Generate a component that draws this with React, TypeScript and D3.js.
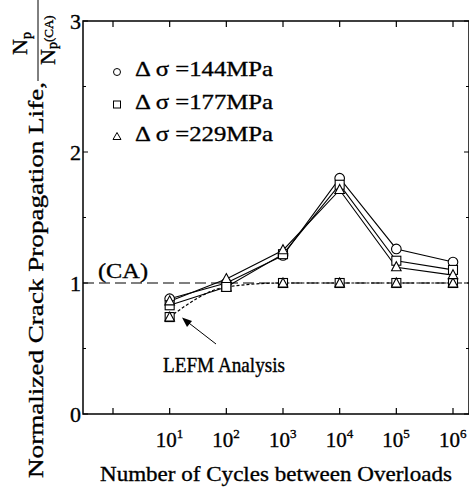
import React from "react";
import * as d3 from "d3";

const cycles = [1e1, 1e2, 1e3, 1e4, 1e5, 1e6];
const s144 = [0.88, 1.0, 1.21, 1.8, 1.26, 1.16];
const s177 = [0.83, 0.97, 1.22, 1.75, 1.17, 1.1];
const s229 = [0.86, 1.03, 1.25, 1.71, 1.12, 1.06];
const lefm = [0.74, 0.97, 1.0, 1.0, 1.0, 1.0];
const legendLabels = ["Δ σ =144MPa", "Δ σ =177MPa", "Δ σ =229MPa"];
const xTickExps = [1, 2, 3, 4, 5, 6];
const yTicks = [0, 1, 2, 3];
const yMinor = [0.5, 1.5, 2.5];
const xMajorTicks = [1e0, 1e1, 1e2, 1e3, 1e4, 1e5, 1e6];

const FONT = "'Liberation Serif', 'Times New Roman', serif";

export default function App() {
  const W = 469, H = 488;
  const left = 83, right = 469, top = 21, bottom = 414;
  const x = d3.scaleLog().domain([1, 1e6]).range([113, 453]);
  const y = d3.scaleLinear().domain([0, 3]).range([bottom, top]);
  const line = d3.line<number>().x((_, i) => x(cycles[i])).y((d) => y(d));
  const lefmLine = d3
    .line<number>()
    .x((_, i) => x(cycles[i]))
    .y((d) => y(d))
    .curve(d3.curveMonotoneX);

  const circle = (cx: number, cy: number, k: string) => (
    <circle key={k} cx={cx} cy={cy} r={4.8} fill="white" stroke="black" strokeWidth={1.1} />
  );
  const square = (cx: number, cy: number, k: string) => (
    <rect key={k} x={cx - 4.5} y={cy - 4.5} width={9} height={9} fill="white" stroke="black" strokeWidth={1.1} />
  );
  const tri = (cx: number, cy: number, k: string) => (
    <path key={k} d={`M${cx},${cy - 5.5}L${cx + 4.8},${cy + 3.5}L${cx - 4.8},${cy + 3.5}Z`} fill="white" stroke="black" strokeWidth={1.1} />
  );

  const series = [
    { data: s144, m: circle },
    { data: s177, m: square },
    { data: s229, m: tri },
  ];
  const legendY = [72, 104.5, 136.5];
  const ts = { stroke: "black", strokeWidth: 0.35 };

  return (
    <svg width={W} height={H} style={{ position: "absolute", left: 0, top: 0, background: "white" }} fontFamily={FONT}>
      <rect x={0} y={0} width={W} height={H} fill="white" />
      {/* frame */}
      <path d={`M${left},${top}V${bottom}H${right}V${top}Z`} fill="none" stroke="black" strokeWidth={1.5} />
      {/* x ticks */}
      {xMajorTicks.map((t, i) => (
        <g key={"xt" + i}>
          <line x1={x(t)} x2={x(t)} y1={bottom} y2={bottom - 6} stroke="black" strokeWidth={1.2} />
          <line x1={x(t)} x2={x(t)} y1={top} y2={top + 6} stroke="black" strokeWidth={1.2} />
        </g>
      ))}
      {/* y ticks */}
      {yTicks.map((t) => (
        <g key={"yt" + t}>
          <line x1={left} x2={left + 5} y1={y(t)} y2={y(t)} stroke="black" strokeWidth={1} />
          <line x1={right} x2={right - 5} y1={y(t)} y2={y(t)} stroke="black" strokeWidth={1} />
          <text x={81} y={y(t) + 8} textAnchor="end" fontSize={22} {...ts}>{t}</text>
        </g>
      ))}
      {yMinor.map((t) => (
        <g key={"ym" + t}>
          <line x1={left} x2={left + 3} y1={y(t)} y2={y(t)} stroke="black" strokeWidth={1} />
          <line x1={right} x2={right - 3} y1={y(t)} y2={y(t)} stroke="black" strokeWidth={1} />
        </g>
      ))}
      {/* x tick labels */}
      {xTickExps.map((e) => (
        <text key={"xl" + e} x={x(Math.pow(10, e)) - 14} y={447} textAnchor="start" fontSize={21} {...ts}>
          10<tspan dy={-9} fontSize={13}>{e}</tspan>
        </text>
      ))}
      {/* CA line */}
      <line x1={left} x2={right} y1={y(1)} y2={y(1)} stroke="black" strokeWidth={1.1} strokeDasharray="11,5" />
      <text x={98} y={y(1) - 5} fontSize={22} textLength={50} lengthAdjust="spacingAndGlyphs" {...ts}>(CA)</text>
      {/* LEFM */}
      <path d={lefmLine(lefm) || ""} fill="none" stroke="black" strokeWidth={1.2} strokeDasharray="3,2" />
      {lefm.map((v, i) => (
        <g key={"lf" + i}>
          {square(x(cycles[i]), y(v), "lfs" + i)}
          {tri(x(cycles[i]), y(v) + 0.5, "lft" + i)}
        </g>
      ))}
      {/* series */}
      {series.map((s, si) => (
        <path key={"ln" + si} d={line(s.data) || ""} fill="none" stroke="black" strokeWidth={1.1} />
      ))}
      {series.map((s, si) => s.data.map((v, i) => s.m(x(cycles[i]), y(v), `m${si}-${i}`)))}
      {/* legend */}
      {legendLabels.map((l, i) => {
        const ly = legendY[i];
        return (
          <g key={"lg" + i}>
            {i === 0 ? <circle cx={117} cy={ly} r={3.5} fill="white" stroke="black" /> : null}
            {i === 1 ? <rect x={113.5} y={ly - 3.5} width={7} height={7} fill="white" stroke="black" /> : null}
            {i === 2 ? <path d={`M117,${ly - 4}L121,${ly + 3}L113,${ly + 3}Z`} fill="white" stroke="black" /> : null}
            <text x={135} y={ly + 4} fontSize={21} textLength={138} lengthAdjust="spacingAndGlyphs" {...ts}>{l}</text>
          </g>
        );
      })}
      {/* LEFM label and arrow */}
      <text x={163} y={372} fontSize={21} textLength={122} lengthAdjust="spacingAndGlyphs" {...ts}>LEFM Analysis</text>
      <line x1={216} x2={185} y1={344} y2={320} stroke="black" strokeWidth={1} />
      <path d="M182,317.5 L192,321 L187,327 Z" fill="black" />
      {/* x label */}
      <text x={100} y={481} fontSize={22} textLength={352} lengthAdjust="spacingAndGlyphs" {...ts}>Number of Cycles between Overloads</text>
      {/* y label */}
      <g transform="translate(43,478) rotate(-90)">
        <text x={0} y={0} fontSize={22} textLength={396} lengthAdjust="spacingAndGlyphs" {...ts}>Normalized Crack Propagation Life,</text>
      </g>
      <g transform="rotate(-90)">
        <text x={-55} y={27} fontSize={22} textAnchor="start" {...ts}>
          N<tspan dy={4} fontSize={14}>p</tspan>
        </text>
        <line x1={-81} x2={0} y1={38} y2={38} stroke="black" strokeWidth={1} />
        <text x={-65} y={55} fontSize={22} {...ts}>
          N<tspan dy={2} fontSize={14}>p</tspan><tspan dy={-4} fontSize={13}>(CA)</tspan>
        </text>
      </g>
    </svg>
  );
}
